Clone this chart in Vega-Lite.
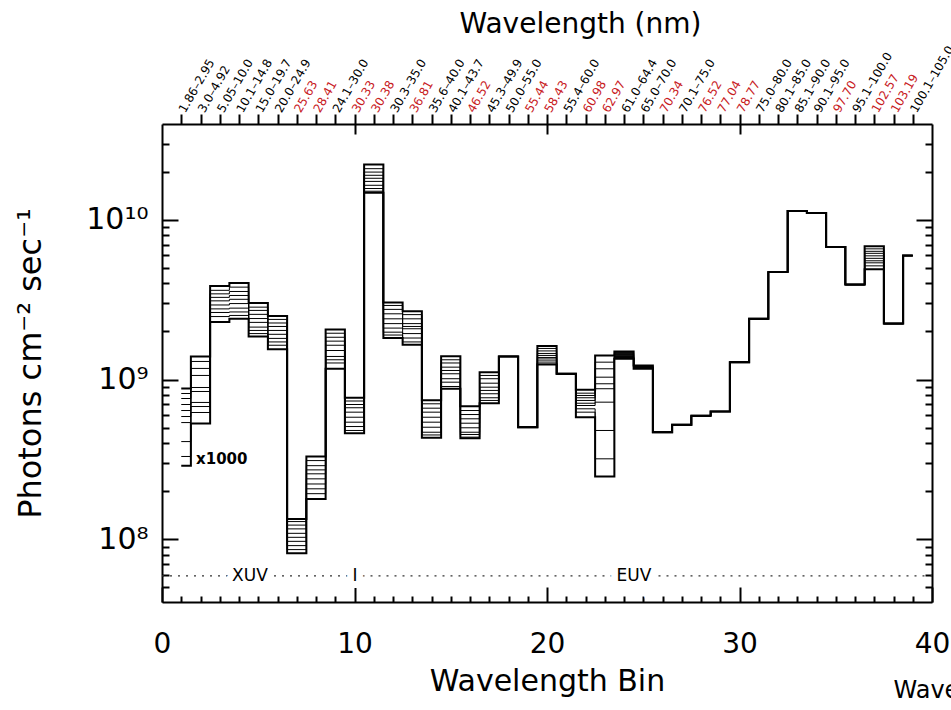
{
  "$schema": "https://vega.github.io/schema/vega-lite/v6.json",
  "width": 770,
  "height": 478,
  "autosize": "none",
  "padding": {"left": 162, "top": 124, "right": 19, "bottom": 108},
  "background": "white",
  "config": {
    "font": "DejaVu Sans",
    "view": {"stroke": null},
    "axis": {"grid": false, "domainColor": "black", "tickColor": "black", "domainWidth": 2, "tickWidth": 2, "labelColor": "black", "titleColor": "black", "titleFontWeight": "normal", "labelFont": "DejaVu Sans", "titleFont": "DejaVu Sans"}
  },
  "datasets": {
    "bins": [
      {"bin": 1, "label": "1.86–2.95", "red": false, "v0": 8.79e8, "v1": 8.18e8, "v2": 7.61e8, "v3": 6.98e8, "v4": 6.40e8, "v5": 5.87e8, "v6": 5.38e8, "v7": 4.09e8, "v8": 3.30e8, "v9": 2.89e8},
      {"bin": 2, "label": "3.0–4.92", "red": false, "v0": 1.395e9, "v1": 1.298e9, "v2": 1.174e9, "v3": 1.061e9, "v4": 8.92e8, "v5": 8.42e8, "v6": 7.19e8, "v7": 6.78e8, "v8": 6.22e8, "v9": 5.31e8},
      {"bin": 3, "label": "5.05–10.0", "red": false, "v0": 3.85e9, "v1": 3.62e9, "v2": 3.44e9, "v3": 3.27e9, "v4": 3.11e9, "v5": 2.93e9, "v6": 2.77e9, "v7": 2.63e9, "v8": 2.48e9, "v9": 2.29e9},
      {"bin": 4, "label": "10.1–14.8", "red": false, "v0": 4.02e9, "v1": 3.79e9, "v2": 3.56e9, "v3": 3.36e9, "v4": 3.18e9, "v5": 2.99e9, "v6": 2.80e9, "v7": 2.65e9, "v8": 2.52e9, "v9": 2.40e9},
      {"bin": 5, "label": "15.0–19.7", "red": false, "v0": 3.01e9, "v1": 2.84e9, "v2": 2.71e9, "v3": 2.56e9, "v4": 2.41e9, "v5": 2.28e9, "v6": 2.13e9, "v7": 2.03e9, "v8": 1.94e9, "v9": 1.86e9},
      {"bin": 6, "label": "20.0–24.9", "red": false, "v0": 2.50e9, "v1": 2.38e9, "v2": 2.26e9, "v3": 2.15e9, "v4": 2.03e9, "v5": 1.92e9, "v6": 1.81e9, "v7": 1.72e9, "v8": 1.64e9, "v9": 1.55e9},
      {"bin": 7, "label": "25.63", "red": true, "v0": 1.342e8, "v1": 1.291e8, "v2": 1.227e8, "v3": 1.162e8, "v4": 1.090e8, "v5": 1.029e8, "v6": 9.71e7, "v7": 9.13e7, "v8": 8.62e7, "v9": 8.17e7},
      {"bin": 8, "label": "28.41", "red": true, "v0": 3.30e8, "v1": 3.11e8, "v2": 2.89e8, "v3": 2.72e8, "v4": 2.57e8, "v5": 2.39e8, "v6": 2.22e8, "v7": 2.07e8, "v8": 1.93e8, "v9": 1.79e8},
      {"bin": 9, "label": "24.1–30.0", "red": false, "v0": 2.06e9, "v1": 1.95e9, "v2": 1.84e9, "v3": 1.74e9, "v4": 1.64e9, "v5": 1.52e9, "v6": 1.395e9, "v7": 1.33e9, "v8": 1.27e9, "v9": 1.17e9},
      {"bin": 10, "label": "30.33", "red": true, "v0": 7.69e8, "v1": 7.34e8, "v2": 6.98e8, "v3": 6.66e8, "v4": 6.25e8, "v5": 5.81e8, "v6": 5.41e8, "v7": 5.08e8, "v8": 4.80e8, "v9": 4.62e8},
      {"bin": 11, "label": "30.38", "red": true, "v0": 2.22e10, "v1": 2.09e10, "v2": 1.99e10, "v3": 1.90e10, "v4": 1.82e10, "v5": 1.74e10, "v6": 1.645e10, "v7": 1.57e10, "v8": 1.51e10, "v9": 1.48e10},
      {"bin": 12, "label": "30.3–35.0", "red": false, "v0": 3.04e9, "v1": 2.91e9, "v2": 2.75e9, "v3": 2.58e9, "v4": 2.40e9, "v5": 2.24e9, "v6": 2.10e9, "v7": 1.98e9, "v8": 1.90e9, "v9": 1.82e9},
      {"bin": 13, "label": "36.81", "red": true, "v0": 2.68e9, "v1": 2.55e9, "v2": 2.40e9, "v3": 2.24e9, "v4": 2.15e9, "v5": 2.08e9, "v6": 1.94e9, "v7": 1.82e9, "v8": 1.72e9, "v9": 1.65e9},
      {"bin": 14, "label": "35.6–40.0", "red": false, "v0": 7.43e8, "v1": 7.05e8, "v2": 6.62e8, "v3": 6.25e8, "v4": 5.81e8, "v5": 5.41e8, "v6": 5.03e8, "v7": 4.68e8, "v8": 4.50e8, "v9": 4.32e8},
      {"bin": 15, "label": "40.1–43.7", "red": false, "v0": 1.40e9, "v1": 1.33e9, "v2": 1.27e9, "v3": 1.196e9, "v4": 1.14e9, "v5": 1.087e9, "v6": 1.012e9, "v7": 9.63e8, "v8": 9.05e8, "v9": 8.76e8},
      {"bin": 16, "label": "46.52", "red": true, "v0": 6.81e8, "v1": 6.40e8, "v2": 6.04e8, "v3": 5.68e8, "v4": 5.33e8, "v5": 4.99e8, "v6": 4.68e8, "v7": 4.53e8, "v8": 4.36e8, "v9": 4.29e8},
      {"bin": 17, "label": "45.3–49.9", "red": false, "v0": 1.11e9, "v1": 1.061e9, "v2": 1.012e9, "v3": 9.49e8, "v4": 8.96e8, "v5": 8.55e8, "v6": 8.15e8, "v7": 7.69e8, "v8": 7.40e8, "v9": 7.11e8},
      {"bin": 18, "label": "50.0–55.0", "red": false, "v0": 1.395e9, "v1": 1.395e9, "v2": 1.395e9, "v3": 1.395e9, "v4": 1.395e9, "v5": 1.395e9, "v6": 1.395e9, "v7": 1.395e9, "v8": 1.395e9, "v9": 1.395e9},
      {"bin": 19, "label": "55.44", "red": true, "v0": 5.03e8, "v1": 5.03e8, "v2": 5.03e8, "v3": 5.03e8, "v4": 5.03e8, "v5": 5.03e8, "v6": 5.03e8, "v7": 5.03e8, "v8": 5.03e8, "v9": 5.03e8},
      {"bin": 20, "label": "58.43", "red": true, "v0": 1.62e9, "v1": 1.566e9, "v2": 1.511e9, "v3": 1.457e9, "v4": 1.416e9, "v5": 1.375e9, "v6": 1.346e9, "v7": 1.308e9, "v8": 1.271e9, "v9": 1.244e9},
      {"bin": 21, "label": "55.4–60.0", "red": false, "v0": 1.087e9, "v1": 1.087e9, "v2": 1.087e9, "v3": 1.087e9, "v4": 1.087e9, "v5": 1.087e9, "v6": 1.087e9, "v7": 1.087e9, "v8": 1.087e9, "v9": 1.087e9},
      {"bin": 22, "label": "60.98", "red": true, "v0": 8.63e8, "v1": 8.22e8, "v2": 7.95e8, "v3": 7.69e8, "v4": 7.40e8, "v5": 7.11e8, "v6": 6.88e8, "v7": 6.56e8, "v8": 6.25e8, "v9": 5.81e8},
      {"bin": 23, "label": "62.97", "red": true, "v0": 1.416e9, "v1": 1.285e9, "v2": 1.168e9, "v3": 1.035e9, "v4": 9.41e8, "v5": 8.76e8, "v6": 7.22e8, "v7": 4.80e8, "v8": 3.19e8, "v9": 2.47e8},
      {"bin": 24, "label": "61.0–64.4", "red": false, "v0": 1.500e9, "v1": 1.479e9, "v2": 1.457e9, "v3": 1.436e9, "v4": 1.416e9, "v5": 1.395e9, "v6": 1.385e9, "v7": 1.375e9, "v8": 1.361e9, "v9": 1.350e9},
      {"bin": 25, "label": "65.0–70.0", "red": false, "v0": 1.226e9, "v1": 1.217e9, "v2": 1.208e9, "v3": 1.199e9, "v4": 1.195e9, "v5": 1.191e9, "v6": 1.182e9, "v7": 1.178e9, "v8": 1.174e9, "v9": 1.168e9},
      {"bin": 26, "label": "70.34", "red": true, "v0": 4.68e8, "v1": 4.68e8, "v2": 4.68e8, "v3": 4.68e8, "v4": 4.68e8, "v5": 4.68e8, "v6": 4.68e8, "v7": 4.68e8, "v8": 4.68e8, "v9": 4.68e8},
      {"bin": 27, "label": "70.1–75.0", "red": false, "v0": 5.21e8, "v1": 5.21e8, "v2": 5.21e8, "v3": 5.21e8, "v4": 5.21e8, "v5": 5.21e8, "v6": 5.21e8, "v7": 5.21e8, "v8": 5.21e8, "v9": 5.21e8},
      {"bin": 28, "label": "76.52", "red": true, "v0": 5.93e8, "v1": 5.93e8, "v2": 5.93e8, "v3": 5.93e8, "v4": 5.93e8, "v5": 5.93e8, "v6": 5.93e8, "v7": 5.93e8, "v8": 5.93e8, "v9": 5.93e8},
      {"bin": 29, "label": "77.04", "red": true, "v0": 6.31e8, "v1": 6.31e8, "v2": 6.31e8, "v3": 6.31e8, "v4": 6.31e8, "v5": 6.31e8, "v6": 6.31e8, "v7": 6.31e8, "v8": 6.31e8, "v9": 6.31e8},
      {"bin": 30, "label": "78.77", "red": true, "v0": 1.285e9, "v1": 1.285e9, "v2": 1.285e9, "v3": 1.285e9, "v4": 1.285e9, "v5": 1.285e9, "v6": 1.285e9, "v7": 1.285e9, "v8": 1.285e9, "v9": 1.285e9},
      {"bin": 31, "label": "75.0–80.0", "red": false, "v0": 2.40e9, "v1": 2.40e9, "v2": 2.40e9, "v3": 2.40e9, "v4": 2.40e9, "v5": 2.40e9, "v6": 2.40e9, "v7": 2.40e9, "v8": 2.40e9, "v9": 2.40e9},
      {"bin": 32, "label": "80.1–85.0", "red": false, "v0": 4.71e9, "v1": 4.71e9, "v2": 4.71e9, "v3": 4.71e9, "v4": 4.71e9, "v5": 4.71e9, "v6": 4.71e9, "v7": 4.71e9, "v8": 4.71e9, "v9": 4.71e9},
      {"bin": 33, "label": "85.1–90.0", "red": false, "v0": 1.135e10, "v1": 1.135e10, "v2": 1.135e10, "v3": 1.135e10, "v4": 1.135e10, "v5": 1.135e10, "v6": 1.135e10, "v7": 1.135e10, "v8": 1.135e10, "v9": 1.135e10},
      {"bin": 34, "label": "90.1–95.0", "red": false, "v0": 1.103e10, "v1": 1.103e10, "v2": 1.103e10, "v3": 1.103e10, "v4": 1.103e10, "v5": 1.103e10, "v6": 1.103e10, "v7": 1.103e10, "v8": 1.103e10, "v9": 1.103e10},
      {"bin": 35, "label": "97.70", "red": true, "v0": 6.75e9, "v1": 6.75e9, "v2": 6.75e9, "v3": 6.75e9, "v4": 6.75e9, "v5": 6.75e9, "v6": 6.75e9, "v7": 6.75e9, "v8": 6.75e9, "v9": 6.75e9},
      {"bin": 36, "label": "95.1–100.0", "red": false, "v0": 3.93e9, "v1": 3.93e9, "v2": 3.93e9, "v3": 3.93e9, "v4": 3.93e9, "v5": 3.93e9, "v6": 3.93e9, "v7": 3.93e9, "v8": 3.93e9, "v9": 3.93e9},
      {"bin": 37, "label": "102.57", "red": true, "v0": 6.82e9, "v1": 6.58e9, "v2": 6.35e9, "v3": 6.17e9, "v4": 5.95e9, "v5": 5.74e9, "v6": 5.54e9, "v7": 5.38e9, "v8": 5.15e9, "v9": 4.90e9},
      {"bin": 38, "label": "103.19", "red": true, "v0": 2.24e9, "v1": 2.24e9, "v2": 2.24e9, "v3": 2.24e9, "v4": 2.24e9, "v5": 2.24e9, "v6": 2.24e9, "v7": 2.24e9, "v8": 2.24e9, "v9": 2.24e9},
      {"bin": 39, "label": "100.1–105.0", "red": false, "v0": 5.97e9, "v1": 5.97e9, "v2": 5.97e9, "v3": 5.97e9, "v4": 5.97e9, "v5": 5.97e9, "v6": 5.97e9, "v7": 5.97e9, "v8": 5.97e9, "v9": 5.97e9}
    ],
    "bands": [
      {"band": "XUV", "start": 0, "end": 10, "level": 5.9e7},
      {"band": "EUV", "start": 10, "end": 40, "level": 5.9e7}
    ],
    "regions": [
      {"name": "XUV", "pos": 4.57, "level": 5.9e7},
      {"name": "I", "pos": 10.03, "level": 5.9e7},
      {"name": "EUV", "pos": 24.52, "level": 5.9e7}
    ],
    "notes": [
      {"note": "x1000", "bin": 1.77, "flux": 3.16e8}
    ]
  },
  "resolve": {"axis": {"x": "independent", "y": "independent"}},
  "layer": [
    {
      "data": {"name": "bins"},
      "transform": [
        {"fold": ["v0", "v1", "v2", "v3", "v4", "v5", "v6", "v7", "v8", "v9"], "as": ["level", "flux"]},
        {"filter": "datum.level != 'v0' && datum.level != 'v9'"}
      ],
      "mark": {"type": "line", "interpolate": "step", "strokeWidth": 1, "color": "black"},
      "encoding": {
        "x": {"field": "bin", "type": "quantitative", "scale": {"domain": [0, 40], "nice": false, "zero": false},
          "axis": {"orient": "bottom", "values": [0, 10, 20, 30, 40], "tickSize": -15, "labelPadding": 65, "labelFontSize": 28, "labelBaseline": "alphabetic", "labelFlush": false, "labelOverlap": false, "format": "d", "domain": true,
            "title": "Wavelength Bin", "titleFontSize": 30, "titleX": 385, "titleY": 88, "titleBaseline": "alphabetic", "titleAlign": "center"}},
        "y": {"field": "flux", "type": "quantitative", "scale": {"type": "log", "domain": [4.05e7, 3.98e10], "nice": false},
          "axis": {"orient": "left", "values": [1e8, 1e9, 1e10], "tickSize": -16, "labelPadding": 30, "labelFontSize": 30, "labelBaseline": "middle", "labelOverlap": false,
            "labelExpr": "datum.value < 5e8 ? '10⁸' : datum.value < 5e9 ? '10⁹' : '10¹⁰'", "domain": true,
            "title": "Photons cm⁻² sec⁻¹", "titleFontSize": 32, "titleAngle": 270, "titleX": -122, "titleY": 239, "titleAlign": "center", "titleBaseline": "alphabetic"}},
        "detail": {"field": "level"}
      }
    },
    {
      "data": {"name": "bins"},
      "transform": [
        {"fold": ["v0", "v1", "v2", "v3", "v4", "v5", "v6", "v7", "v8", "v9"], "as": ["level", "flux"]},
        {"filter": "datum.level == 'v0' || datum.level == 'v9'"}
      ],
      "mark": {"type": "line", "interpolate": "step", "strokeWidth": 2, "color": "black"},
      "encoding": {
        "x": {"field": "bin", "type": "quantitative", "scale": {"domain": [0, 40], "nice": false, "zero": false},
          "axis": {"orient": "bottom", "values": [1,2,3,4,5,6,7,8,9,11,12,13,14,15,16,17,18,19,21,22,23,24,25,26,27,28,29,31,32,33,34,35,36,37,38,39], "tickSize": -6, "labels": false, "domain": false, "title": null}},
        "y": {"field": "flux", "type": "quantitative", "scale": {"type": "log", "domain": [4.05e7, 3.98e10], "nice": false},
          "axis": {"orient": "left", "values": [5e7, 6e7, 7e7, 8e7, 9e7, 2e8, 3e8, 4e8, 5e8, 6e8, 7e8, 8e8, 9e8, 2e9, 3e9, 4e9, 5e9, 6e9, 7e9, 8e9, 9e9, 2e10, 3e10], "tickSize": -7, "labels": false, "domain": false, "title": null}},
        "detail": {"field": "level"}
      }
    },
    {
      "data": {"name": "bands"},
      "mark": {"type": "rule", "strokeDash": [2, 6], "color": "#333333", "strokeWidth": 1.2},
      "encoding": {
        "x": {"field": "start", "type": "quantitative", "scale": {"domain": [0, 40], "nice": false, "zero": false},
          "axis": {"orient": "top", "values": [1,2,3,4,5,6,7,8,9,10,11,12,13,14,15,16,17,18,19,20,21,22,23,24,25,26,27,28,29,30,31,32,33,34,35,36,37,38,39], "tickSize": 10, "labelAngle": -60, "labelAlign": "left", "labelBaseline": "middle", "labelPadding": 3, "labelFontSize": 12, "labelOverlap": false, "labelFlush": false, "labelBound": false,
            "labelExpr": "data('bins')[datum.value - 1].label",
            "labelColor": {"condition": {"test": "data('bins')[datum.value - 1].red", "value": "#c8201e"}, "value": "black"},
            "domain": true, "title": "Wavelength (nm)", "titleFontSize": 28, "titleX": 418, "titleY": -92, "titleAlign": "center", "titleBaseline": "alphabetic"}},
        "x2": {"field": "end"},
        "y": {"field": "level", "type": "quantitative", "scale": {"type": "log", "domain": [4.05e7, 3.98e10], "nice": false},
          "axis": {"orient": "right", "values": [1e8, 1e9, 1e10], "tickSize": -16, "labels": false, "domain": true, "title": null}}
      }
    },
    {
      "data": {"name": "regions"},
      "mark": {"type": "text", "fontSize": 17, "stroke": "white", "strokeWidth": 14, "fill": "white", "baseline": "middle", "align": "center"},
      "encoding": {
        "x": {"field": "pos", "type": "quantitative", "scale": {"domain": [0, 40], "nice": false, "zero": false},
          "axis": {"orient": "top", "values": [10, 20, 30], "tickSize": -10, "labels": false, "domain": false, "title": null}},
        "y": {"field": "level", "type": "quantitative", "scale": {"type": "log", "domain": [4.05e7, 3.98e10], "nice": false},
          "axis": {"orient": "right", "values": [5e7, 6e7, 7e7, 8e7, 9e7, 2e8, 3e8, 4e8, 5e8, 6e8, 7e8, 8e8, 9e8, 2e9, 3e9, 4e9, 5e9, 6e9, 7e9, 8e9, 9e9, 2e10, 3e10], "tickSize": -7, "labels": false, "domain": false, "title": null}},
        "text": {"field": "name"}
      }
    },
    {
      "data": {"name": "regions"},
      "mark": {"type": "text", "fontSize": 17, "color": "black", "baseline": "middle", "align": "center"},
      "encoding": {
        "x": {"field": "pos", "type": "quantitative", "axis": null},
        "y": {"field": "level", "type": "quantitative", "axis": null},
        "text": {"field": "name"}
      }
    },
    {
      "data": {"name": "notes"},
      "mark": {"type": "text", "fontSize": 15, "fontWeight": "bold", "color": "black", "baseline": "middle", "align": "left"},
      "encoding": {
        "x": {"field": "bin", "type": "quantitative",
          "axis": {"orient": "bottom", "values": [], "ticks": false, "labels": false, "domain": false, "title": "Wavelength", "titleFontSize": 24, "titleX": 731, "titleY": 95, "titleAlign": "left", "titleBaseline": "alphabetic"}},
        "y": {"field": "flux", "type": "quantitative", "axis": null},
        "text": {"field": "note"}
      }
    }
  ]
}
